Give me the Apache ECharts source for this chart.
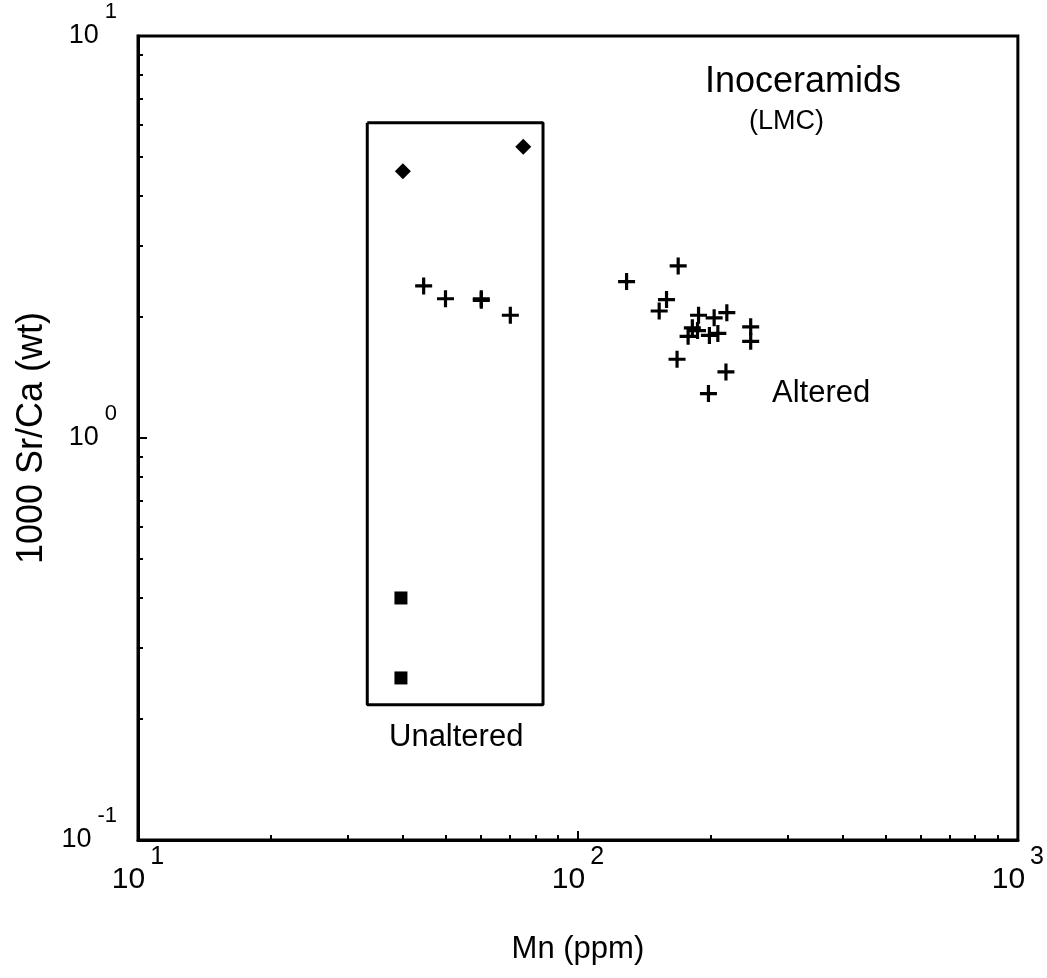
<!DOCTYPE html>
<html>
<head>
<meta charset="utf-8">
<title>Inoceramids Sr/Ca vs Mn</title>
<script src="https://cdn.jsdelivr.net/npm/echarts@6/dist/echarts.min.js"></script>
<style>
  html, body { margin: 0; padding: 0; background: #fff; }
  #chart { width: 1047px; height: 978px; }
</style>
</head>
<body>
<div id="chart"></div>
<script>
// Mn (ppm) / 1000 Sr/Ca
const diamondMn = [40.0, 75.1];
const diamondSr = [4.61, 5.30];

const squareMn = [39.6, 39.6];
const squareSr = [0.40, 0.253];

// crosses inside the "Unaltered" box
const crossInMn = [44.6, 50.0, 60.3, 60.3, 70.2];
const crossInSr = [2.39, 2.22, 2.22, 2.20, 2.02];

// crosses of the altered group
const crossAltMn = [129, 169, 159, 153, 188, 204, 218, 182, 187, 178, 199, 208, 247, 247, 168, 217, 198];
const crossAltSr = [2.45, 2.68, 2.21, 2.07, 2.02, 1.99, 2.05, 1.88, 1.85, 1.79, 1.80, 1.82, 1.89, 1.74, 1.57, 1.46, 1.29];

// outline of the "Unaltered" field
const boxMn = [33.2, 83.3, 83.3, 33.2, 33.2];
const boxSr = [6.08, 6.08, 0.217, 0.217, 6.08];

const xTicks = { 10: '1', 100: '2', 1000: '3' };
const yTicks = { 0.1: '-1', 1: '0', 10: '1' };

function pairs(xs, ys) {
  return xs.map((x, i) => [x, ys[i]]);
}

const crossPath = 'path://M6.5,0H9.5V6.5H16V9.5H9.5V16H6.5V9.5H0V6.5H6.5Z';
const font = '"Liberation Sans", Arial, Helvetica, sans-serif';

const chart = echarts.init(document.getElementById('chart'));

const option = {
  backgroundColor: '#fff',
  animation: false,
  textStyle: { fontFamily: font, color: '#000' },
  grid: {
    left: 138, right: 25, top: 36, bottom: 138,
    show: true, borderColor: '#000', borderWidth: 3
  },
  xAxis: {
    type: 'log',
    logBase: 10,
    min: 10,
    max: 1000,
    name: 'Mn (ppm)',
    nameLocation: 'middle',
    nameGap: 94,
    nameTextStyle: { fontSize: 31, color: '#000', fontFamily: font },
    axisLine: { show: true, lineStyle: { color: '#000', width: 3 } },
    axisTick: { show: true, inside: true, length: 9, lineStyle: { color: '#000', width: 2 } },
    minorTick: { show: true, splitNumber: 9, length: 5, lineStyle: { color: '#000', width: 2 } },
    splitLine: { show: false },
    axisLabel: {
      margin: 5,
      formatter: v => '{b|10}{e|' + (xTicks[Math.round(v)] || '') + '}',
      rich: {
        b: { fontSize: 30, color: '#000', fontFamily: font },
        e: { fontSize: 25, color: '#000', fontFamily: font, padding: [0, 0, 44, 5] }
      }
    }
  },
  yAxis: {
    type: 'log',
    logBase: 10,
    min: 0.1,
    max: 10,
    name: '1000 Sr/Ca (wt)',
    nameLocation: 'middle',
    nameGap: 78,
    nameTextStyle: { fontSize: 36, color: '#000', fontFamily: font },
    axisLine: { show: true, lineStyle: { color: '#000', width: 3 } },
    axisTick: { show: true, inside: true, length: 9, lineStyle: { color: '#000', width: 2 } },
    minorTick: { show: true, splitNumber: 9, length: 5, lineStyle: { color: '#000', width: 2 } },
    splitLine: { show: false },
    axisLabel: {
      margin: 21,
      formatter: v => {
        const k = v < 0.5 ? 0.1 : (v < 5 ? 1 : 10);
        return '{b|10}{e|' + yTicks[k] + '}';
      },
      rich: {
        b: { fontSize: 27, color: '#000', fontFamily: font },
        e: { fontSize: 22, color: '#000', fontFamily: font, padding: [0, 0, 48, 6] }
      }
    }
  },
  series: [
    {
      name: 'box',
      type: 'line',
      data: pairs(boxMn, boxSr),
      symbol: 'none',
      lineStyle: { color: '#000', width: 3 },
      silent: true,
      z: 1
    },
    {
      name: 'diamonds',
      type: 'scatter',
      data: pairs(diamondMn, diamondSr),
      symbol: 'diamond',
      symbolSize: [16, 16],
      itemStyle: { color: '#000', opacity: 1 }
    },
    {
      name: 'squares',
      type: 'scatter',
      data: pairs(squareMn, squareSr),
      symbol: 'rect',
      symbolSize: 13,
      itemStyle: { color: '#000', opacity: 1 }
    },
    {
      name: 'unaltered crosses',
      type: 'scatter',
      data: pairs(crossInMn, crossInSr),
      symbol: crossPath,
      symbolSize: 17,
      itemStyle: { color: '#000', opacity: 1 }
    },
    {
      name: 'altered crosses',
      type: 'scatter',
      data: pairs(crossAltMn, crossAltSr),
      symbol: crossPath,
      symbolSize: 17,
      itemStyle: { color: '#000', opacity: 1 }
    }
  ],
  graphic: [
    { type: 'text', x: 705, y: 82, style: { text: 'Inoceramids', font: '36px ' + font, fill: '#000', textVerticalAlign: 'middle' } },
    { type: 'text', x: 749, y: 122, style: { text: '(LMC)', font: '27px ' + font, fill: '#000', textVerticalAlign: 'middle' } },
    { type: 'text', x: 772, y: 393, style: { text: 'Altered', font: '31px ' + font, fill: '#000', textVerticalAlign: 'middle' } },
    { type: 'text', x: 389, y: 737, style: { text: 'Unaltered', font: '31px ' + font, fill: '#000', textVerticalAlign: 'middle' } }
  ]
};

chart.setOption(option);
</script>
</body>
</html>
